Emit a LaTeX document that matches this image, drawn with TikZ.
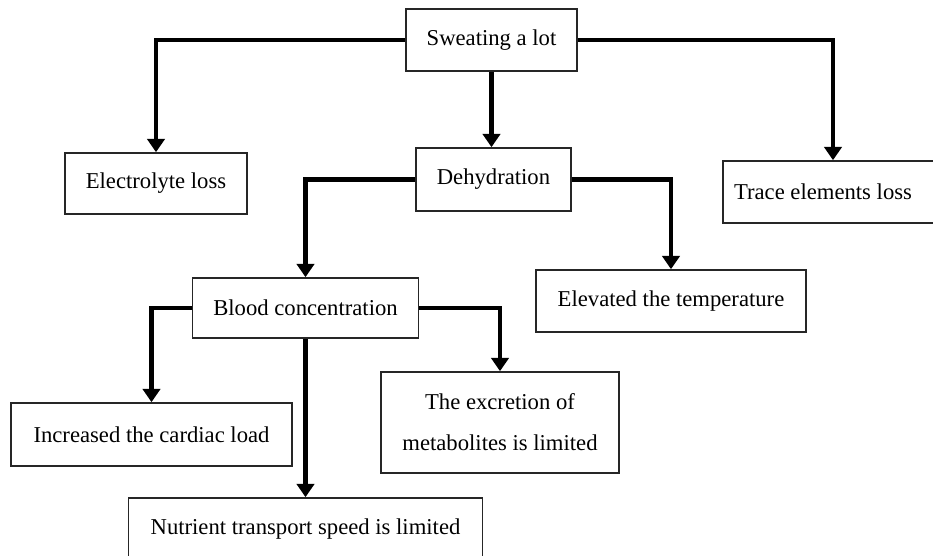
\documentclass[tikz,border=0pt]{standalone}
\usepackage{fontspec}
\setmainfont{Liberation Serif}
\usetikzlibrary{arrows.meta}
\begin{document}
\begin{tikzpicture}[x=0.75pt,y=-0.75pt,
  box/.style={draw=black!85,line width=1.2pt,inner sep=0pt,align=center,
    font=\fontsize{17}{30.75}\selectfont,anchor=center},
  conn/.style={line width=3.4pt,-{Triangle[width=13pt,length=10pt]}}]
\useasboundingbox (0,0) rectangle (933,556);
\clip (0,0) rectangle (933,556);
\fill[white] (0,0) rectangle (933,556);
\node[box,minimum width=128.25pt,minimum height=46.5pt] (sweat) at (491.5,40) {Sweating a lot};
\node[box,minimum width=136.5pt,minimum height=45.75pt] (elec) at (156,183.5) {Electrolyte loss};
\node[box,minimum width=116.25pt,minimum height=47.25pt] (dehyd) at (493.5,179.5) {Dehydration};
\node[box,minimum width=195pt,minimum height=46.5pt] (trace) at (853,192) {\hspace*{-45pt}Trace elements loss};
\node[box,minimum width=202.5pt,minimum height=46.5pt] (elev) at (671,301) {Elevated the temperature};
\node[box,minimum width=169.5pt,minimum height=45pt] (blood) at (305.5,308) {Blood concentration};
\node[box,minimum width=210.75pt,minimum height=47.25pt] (incr) at (151.5,434.5) {Increased the cardiac load};
\node[box,minimum width=178.5pt,minimum height=75.75pt] (excr) at (500,422.5) {The excretion of\\metabolites is limited};
\node[box,minimum width=265.5pt,minimum height=46.5pt] (nutr) at (305.5,529) {Nutrient transport speed is limited};
\draw[conn] (sweat.west) -| (elec.north);
\draw[conn] (sweat.south) -- (sweat.south |- dehyd.north);
\draw[conn] (sweat.east) -| ([xshift=-15pt]trace.north);
\draw[conn] (dehyd.west) -| (blood.north);
\draw[conn] (dehyd.east) -| (elev.north);
\draw[conn] (blood.west) -| (incr.north);
\draw[conn] (blood.south) -- (nutr.north);
\draw[conn] (blood.east) -| (excr.north);
\end{tikzpicture}
\end{document}
